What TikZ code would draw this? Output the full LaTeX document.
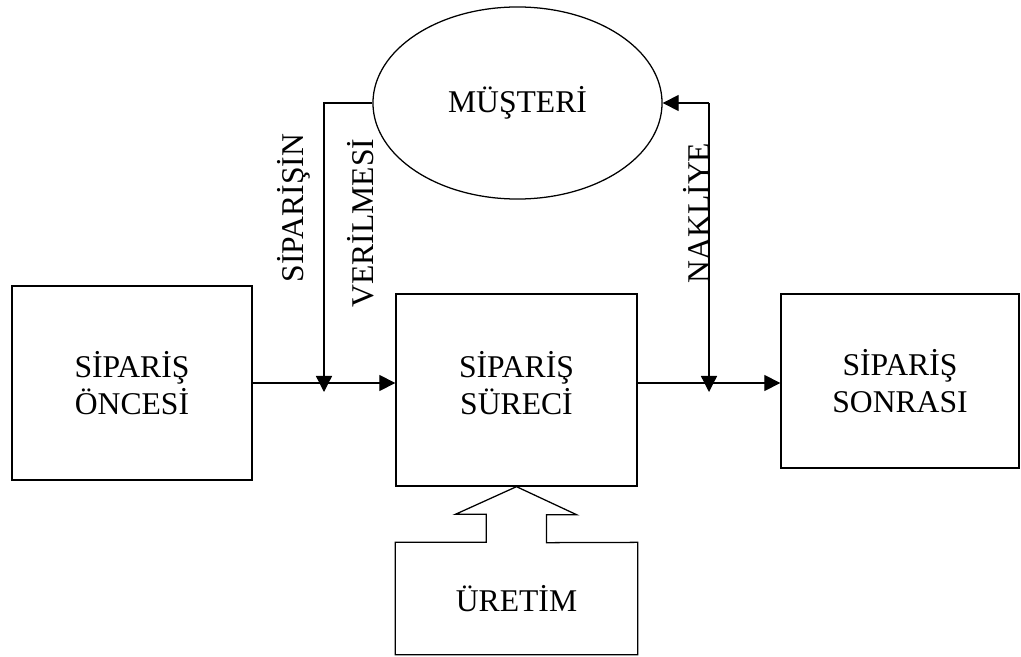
\documentclass[tikz,border=0pt]{standalone}
\usepackage{fontspec}
\setmainfont{Liberation Serif}
\usepackage{tikz}
\usetikzlibrary{shapes.geometric, arrows.meta, positioning, calc}

\begin{document}
\begin{tikzpicture}[x=0.025cm, y=-0.025cm, line width=0.9pt,
    txt/.style={font=\fontsize{22.5}{26.3}\selectfont, align=center, inner sep=0pt},
    box/.style={draw, rectangle, txt},
    flow/.style={-{Triangle[length=0.4cm, width=0.4cm]}}]
\useasboundingbox (0,0) rectangle (1021,657);

% Process stages
\node[box, minimum width=6cm, minimum height=4.85cm] (pre) at (132,383) {SİPARİŞ\\ÖNCESİ};
\node[box, minimum width=6.025cm, minimum height=4.8cm] (proc) at (516.5,390) {};
\node[txt] (proctext) at (516.5,383) {SİPARİŞ\\SÜRECİ};
\node[box, minimum width=5.95cm, minimum height=4.35cm] (post) at (900,381) {SİPARİŞ\\SONRASI};

% Customer
\node[draw, ellipse, txt, minimum width=7.225cm, minimum height=4.8cm] (cust) at (517.5,103) {MÜŞTERİ};

% Production feeding the process
\node[txt, minimum width=6.025cm, minimum height=2.775cm] (uretim) at (516.5,598.5) {ÜRETİM};
\draw (uretim.north west) -- ++(91,0) -- ++(0,-28) -- ++(-31,0) -- (proc.south)
    -- ++(60,28) -- ++(-30,0) -- ++(0,28) -- (uretim.north east)
    -- (uretim.south east) -- (uretim.south west) -- cycle;

% Junctions on the main line
\coordinate (jin) at (324,392);
\coordinate (jout) at (709,392);

% Main flow
\draw[flow] (pre.east) -- (pre.east -| proc.west);
\draw[flow] (pre.east -| proc.east) -- (pre.east -| post.west);

% Order placement and shipping
\draw[flow] (cust.west) -- (cust.west -| jin) -- (jin);
\draw[flow] (cust.east -| jout) -- (jout);
\draw[flow] (cust.east -| jout) -- (cust.east);

% Vertical labels
\node[txt, rotate=90, anchor=base] (lblsip) at (303,208) {SİPARİŞİN};
\node[txt, rotate=90, anchor=base] (lblver) at (373,223) {VERİLMESİ};
\node[txt, rotate=90, anchor=base] (lblnak) at (709,213) {NAKLİYE};
\end{tikzpicture}
\end{document}
